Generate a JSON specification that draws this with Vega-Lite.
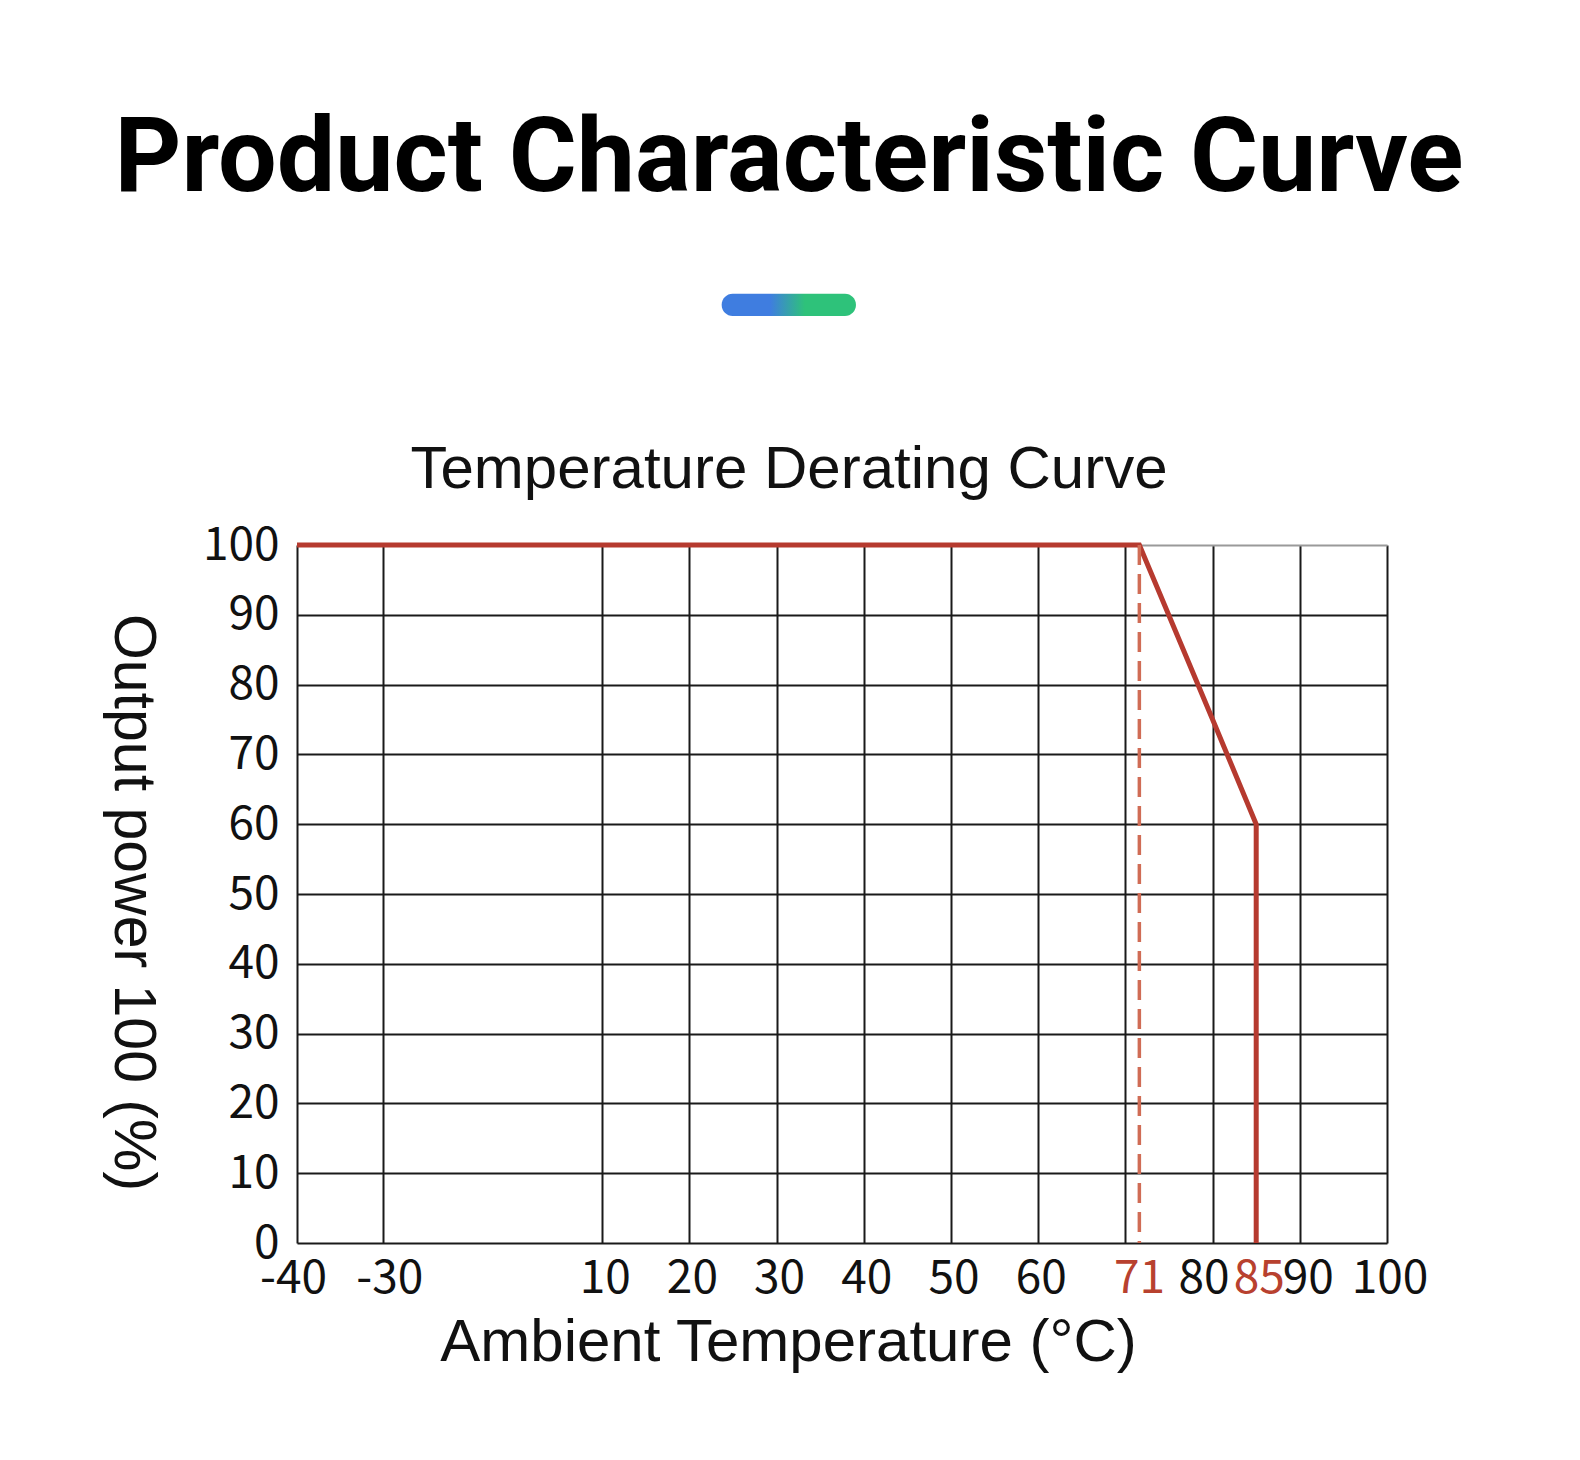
{
  "$schema": "https://vega.github.io/schema/vega-lite/v6.json",
  "autosize": {"type": "none"},
  "padding": {"left": 297, "top": 545, "right": 193, "bottom": 217},
  "width": 1090,
  "height": 698,
  "background": "white",
  "config": {"view": {"stroke": null}},
  "title": {
    "text": "Product Characteristic Curve",
    "subtitle": "Temperature Derating Curve",
    "anchor": "middle",
    "frame": "group",
    "dx": -53,
    "font": "Roboto",
    "fontSize": 104,
    "fontWeight": "bold",
    "color": "#000000",
    "subtitleFont": "Liberation Sans",
    "subtitleFontSize": 60,
    "subtitleColor": "#111111",
    "subtitlePadding": 228,
    "offset": -207
  },
  "datasets": {
    "curve": [
      {"i": 1, "t": -40, "p": 100},
      {"i": 2, "t": 71.6, "p": 100},
      {"i": 3, "t": 80, "p": 75},
      {"i": 4, "t": 85, "p": 60},
      {"i": 5, "t": 85, "p": 0}
    ],
    "marker": [
      {"t": 71.6, "p": 100, "p2": 0}
    ],
    "pill": [
      {"t": 23.7, "t2": 39.1, "p": 136.0, "p2": 132.8}
    ]
  },
  "layer": [
    {
      "data": {"name": "curve"},
      "mark": {"type": "line", "color": "#b63a2f", "strokeWidth": 5},
      "encoding": {
        "x": {
          "field": "t",
          "type": "quantitative",
          "scale": {"domain": [-40, -30, 10, 100], "range": [0, 86.3, 305.2, 1090], "nice": false, "zero": false},
          "axis": {
            "values": [-40, -30, 10, 20, 30, 40, 50, 60, 70, 71, 80, 85, 90, 100],
            "title": "Ambient Temperature (°C)",
            "titleFont": "Liberation Sans",
            "titleFontSize": 60,
            "titleFontWeight": "normal",
            "titleColor": "#111111",
            "titleX": 491,
            "titleY": 117,
            "titleAlign": "center",
            "titleBaseline": "alphabetic",
            "labelFont": "Noto Sans CJK SC",
            "labelFontSize": 46,
            "labelColor": {"condition": {"test": "datum.value == 71 || datum.value == 85", "value": "#b8412f"}, "value": "#111111"},
            "labelExpr": "datum.value == 70 ? '' : '' + datum.value",
            "labelOffset": {"condition": [
              {"test": "datum.value == -40", "value": -4},
              {"test": "datum.value == -30", "value": 6},
              {"test": "datum.value == 71", "value": 5},
              {"test": "datum.value == 80", "value": -9},
              {"test": "datum.value == 90", "value": 8}
            ], "value": 2.5},
            "labelPadding": 13,
            "labelOverlap": false,
            "labelFlush": false,
            "labelBound": false,
            "ticks": false,
            "domain": false,
            "grid": true,
            "gridColor": "#1a1a1a",
            "gridWidth": 2,
            "gridOpacity": {"condition": {"test": "datum.value == 71 || datum.value == 85", "value": 0}, "value": 1}
          }
        },
        "y": {
          "field": "p",
          "type": "quantitative",
          "scale": {"domain": [0, 100], "nice": false, "zero": false},
          "axis": {
            "values": [0, 10, 20, 30, 40, 50, 60, 70, 80, 90, 100],
            "title": "Output power 100 (%)",
            "titleFont": "Liberation Sans",
            "titleFontSize": 59,
            "titleFontWeight": "normal",
            "titleColor": "#111111",
            "titleAngle": 90,
            "titleX": -183,
            "titleY": 357,
            "titleAlign": "center",
            "titleBaseline": "alphabetic",
            "labelFont": "Noto Sans CJK SC",
            "labelFontSize": 46,
            "labelColor": "#111111",
            "labelPadding": 18,
            "ticks": false,
            "domain": false,
            "grid": true,
            "gridColor": {"condition": {"test": "datum.value == 100", "value": "#9a9a9a"}, "value": "#1a1a1a"},
            "gridWidth": 2
          }
        },
        "order": {"field": "i", "type": "quantitative"}
      }
    },
    {
      "data": {"name": "marker"},
      "mark": {"type": "rule", "color": "#d06c55", "strokeWidth": 3.5, "strokeDash": [20, 9]},
      "encoding": {
        "x": {"field": "t", "type": "quantitative"},
        "y": {"field": "p", "type": "quantitative"},
        "y2": {"field": "p2"}
      }
    },
    {
      "data": {"name": "pill"},
      "mark": {
        "type": "rect",
        "cornerRadius": 11,
        "color": {
          "gradient": "linear",
          "x1": 0, "x2": 1, "y1": 0, "y2": 0,
          "stops": [
            {"offset": 0, "color": "#3f7de0"},
            {"offset": 0.36, "color": "#3f7de0"},
            {"offset": 0.62, "color": "#2ec27a"},
            {"offset": 1, "color": "#2ec27a"}
          ]
        }
      },
      "encoding": {
        "x": {"field": "t", "type": "quantitative"},
        "x2": {"field": "t2"},
        "y": {"field": "p", "type": "quantitative"},
        "y2": {"field": "p2"}
      }
    }
  ]
}
